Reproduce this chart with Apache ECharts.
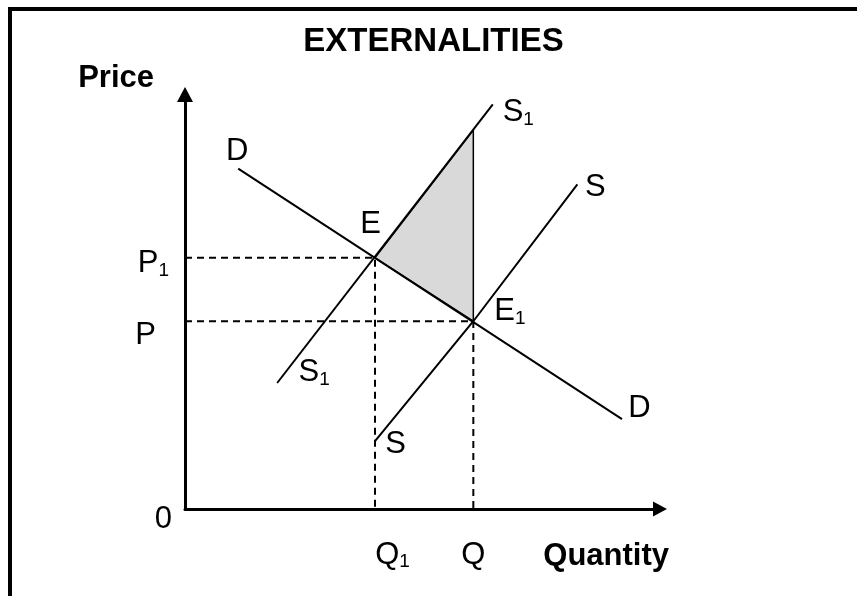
<!DOCTYPE html>
<html>
<head>
<meta charset="utf-8">
<title>Externalities</title>
<script src="https://cdn.jsdelivr.net/npm/echarts@6/dist/echarts.min.js"></script>
<style>
  html, body { margin: 0; padding: 0; background: #fff; }
  #chart { width: 857px; height: 596px; }
</style>
</head>
<body>
<div id="chart"></div>
<script>
// quantity (x) and price (y), both on a 0..10 scale
var demand = [[1.12, 8.21], [9.2, 2.17]];
var supply = [[4.0, 1.64], [6.07, 4.53], [8.26, 7.83]];
var socialSupply = [[1.94, 3.04], [6.48, 9.76]];
var equilibrium = [[4.0, 6.06], [6.07, 4.53]]; // E, E1
var lossArea = [[4.0, 6.06], [6.07, 9.14], [6.07, 4.53]];
var priceTicks = [0, 4.53, 6.06]; // 0, P, P1
var qtyTicks = [4.0, 6.07]; // Q1, Q

var FONT = '"Liberation Sans", Arial, Helvetica, sans-serif';

function txt(size, pad) {
  return { fontSize: size, fontFamily: FONT, color: '#000', verticalAlign: 'middle', padding: pad || 0 };
}

var rich = {
  m: txt(31),
  s: txt(19, [14.4, 0, 0, 0])
};

function lab(t, sub, offset) {
  return {
    show: true,
    position: 'inside',
    offset: offset,
    formatter: '{m|' + t + '}' + (sub ? '{s|' + sub + '}' : ''),
    rich: rich
  };
}

function curve(data) {
  return {
    type: 'line',
    data: data,
    symbol: 'circle',
    symbolSize: 0,
    showSymbol: true,
    lineStyle: { color: '#000', width: 2 },
    itemStyle: { color: '#000', opacity: 1 },
    silent: true,
    z: 3
  };
}

function guide(q, p) {
  return {
    type: 'line',
    data: [[0, p], [q, p], [q, 0]],
    symbol: 'none',
    lineStyle: { color: '#000', width: 2, type: [7, 5] },
    silent: true,
    z: 2
  };
}

var chart = echarts.init(document.getElementById('chart'));

var option = {
  backgroundColor: '#fff',
  animation: false,
  title: {
    text: 'EXTERNALITIES',
    left: 433.5,
    top: 25,
    padding: 0,
    textAlign: 'center',
    textStyle: { fontFamily: FONT, fontSize: 33, fontWeight: 'bold', color: '#000' }
  },
  graphic: [{
    type: 'rect',
    shape: { x: 10, y: 9, width: 900, height: 700 },
    style: { fill: 'none', stroke: '#000', lineWidth: 4 },
    silent: true
  }],
  grid: {
    left: 185, right: 197, top: 94.5, bottom: 87,
    containLabel: false,
    outerBoundsMode: 'none'
  },
  xAxis: {
    type: 'value',
    min: 0,
    max: 10,
    name: 'Quantity',
    nameLocation: 'end',
    nameGap: 9,
    nameTextStyle: {
      fontFamily: FONT, fontSize: 31, fontWeight: 'bold', color: '#000',
      align: 'right', verticalAlign: 'top', padding: [31.5, 0, 0, 0]
    },
    axisLine: {
      onZero: false,
      symbol: ['none', 'triangle'],
      symbolSize: [15, 14],
      lineStyle: { color: '#000', width: 3 }
    },
    axisTick: { show: false },
    splitLine: { show: false },
    axisLabel: {
      customValues: qtyTicks,
      margin: 29.3,
      formatter: function (v) {
        return v === qtyTicks[0] ? '{q1|Q}{s|1}' : '{q|Q}';
      },
      rich: {
        s: rich.s,
        q: txt(31, [1.2, 0, 1.2, 0]),
        q1: txt(31, [0, 0, 0, 35])
      }
    }
  },
  yAxis: {
    type: 'value',
    min: 0,
    max: 10,
    name: 'Price',
    nameLocation: 'end',
    nameGap: 1,
    nameTextStyle: {
      fontFamily: FONT, fontSize: 31, fontWeight: 'bold', color: '#000',
      align: 'right', verticalAlign: 'bottom', padding: [0, 31, 0, 0]
    },
    axisLine: {
      onZero: false,
      symbol: ['none', 'triangle'],
      symbolSize: [16, 15],
      lineStyle: { color: '#000', width: 3 }
    },
    axisTick: { show: false },
    splitLine: { show: false },
    axisLabel: {
      customValues: priceTicks,
      margin: 13,
      formatter: function (v) {
        if (v === priceTicks[0]) return '{z|0}';
        if (v === priceTicks[1]) return '{p|P}';
        return '{p1|P}{s1|1}';
      },
      rich: {
        z: txt(31, [21, 0, 0, 0]),
        p: txt(31, [28, 16, 0, 0]),
        p1: txt(31, [10.8, 0, 0, 0]),
        s1: txt(19, [25.2, 3, 0, 0])
      }
    }
  },
  series: [
    {
      // shaded triangle between S1, D and Q
      type: 'custom',
      data: [[0, 0]],
      clip: false,
      silent: true,
      z: 1,
      renderItem: function (params, api) {
        return {
          type: 'polygon',
          shape: { points: lossArea.map(function (p) { return api.coord(p); }) },
          style: { fill: '#d9d9d9', stroke: '#000', lineWidth: 1.5 }
        };
      }
    },
    guide(qtyTicks[0], priceTicks[2]),
    guide(qtyTicks[1], priceTicks[1]),
    curve([
      { value: demand[0], label: lab('D', '', [-1, -17.6]) },
      { value: demand[1], label: lab('D', '', [17.5, -10.2]) }
    ]),
    curve([
      { value: socialSupply[0], label: lab('S', '1', [37, -10.6]) },
      { value: socialSupply[1], label: lab('S', '1', [25.5, 8.4]) }
    ]),
    curve([
      { value: supply[0], label: lab('S', '', [20.5, 3.9]) },
      supply[1],
      { value: supply[2], label: lab('S', '', [18.1, 3.2]) }
    ]),
    {
      type: 'scatter',
      data: [
        { value: equilibrium[0], label: lab('E', '', [-4.5, -33.1]) },
        { value: equilibrium[1], label: lab('E', '1', [36.5, -9.8]) }
      ],
      symbolSize: 0,
      itemStyle: { color: '#000', opacity: 1 },
      silent: true,
      z: 4
    }
  ]
};

chart.setOption(option);
</script>
</body>
</html>
